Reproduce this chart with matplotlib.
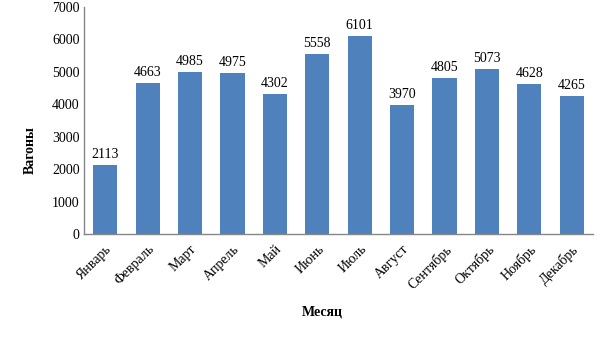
import matplotlib
matplotlib.use("Agg")
import matplotlib.pyplot as plt

months = ["Январь", "Февраль", "Март", "Апрель", "Май", "Июнь", "Июль",
          "Август", "Сентябрь", "Октябрь", "Ноябрь", "Декабрь"]
values = [2113, 4663, 4985, 4975, 4302, 5558, 6101, 3970, 4805, 5073, 4628, 4265]
yticks = [0, 1000, 2000, 3000, 4000, 5000, 6000, 7000]

plt.rcParams['font.family'] = ['Liberation Serif', 'DejaVu Serif']
FS = 10

fig = plt.figure(figsize=(6.05, 3.4), dpi=100)
ax = fig.add_axes([84/605, 1-234/340, (593-84)/605, (234-7)/340])

x = list(range(len(months)))
ax.bar(x, values, width=0.57, color="#4F81BD", zorder=2)
for xi, v in zip(x, values):
    ax.annotate(str(v), (xi, v), xytext=(0, 3), textcoords="offset points",
                ha="center", va="bottom", fontsize=FS)

ax.set_xlim(-0.5, len(months) - 0.5)
ax.set_ylim(0, 7000)
ax.set_yticks(yticks)
ax.set_yticklabels([str(t) for t in yticks], fontsize=FS)
ax.set_xticks(x)
ax.set_xticklabels(months, rotation=45, ha="right", rotation_mode="anchor", fontsize=FS)
ax.tick_params(axis="y", length=0, pad=3)
ax.tick_params(axis="x", length=0, pad=6)

for s in ["top", "right"]:
    ax.spines[s].set_visible(False)
for s in ["left", "bottom"]:
    ax.spines[s].set_color("#868686")
    ax.spines[s].set_linewidth(1.0)

fig.text(30/605, 1-150/340, "Вагоны", rotation=90, ha="center", va="center",
         fontsize=FS, fontweight="bold")
fig.text(322/605, 1-312/340, "Месяц", ha="center", va="center",
         fontsize=FS, fontweight="bold")

fig.savefig("out.png", dpi=100)
